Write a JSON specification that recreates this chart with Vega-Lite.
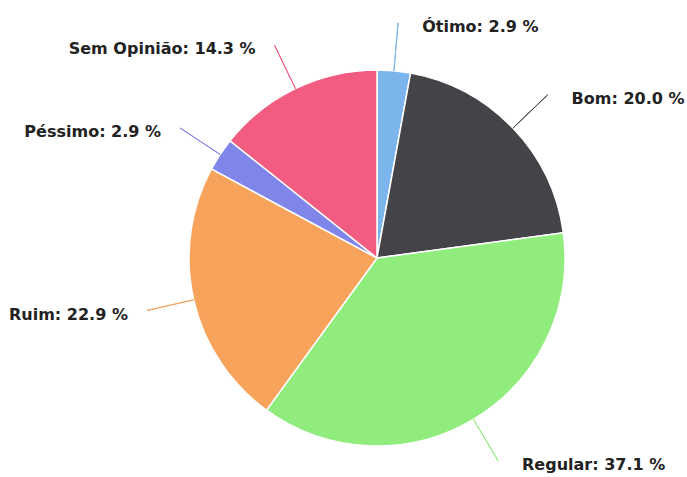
{
  "$schema": "https://vega.github.io/schema/vega-lite/v6.json",
  "width": 687,
  "height": 477,
  "autosize": "none",
  "padding": 0,
  "background": "#ffffff",
  "config": {"view": {"stroke": null}},
  "data": {
    "values": [
      {"order": 1, "cat": "Ótimo", "n": 1},
      {"order": 2, "cat": "Bom", "n": 7},
      {"order": 3, "cat": "Regular", "n": 13},
      {"order": 4, "cat": "Ruim", "n": 8},
      {"order": 5, "cat": "Péssimo", "n": 1},
      {"order": 6, "cat": "Sem Opinião", "n": 5}
    ]
  },
  "transform": [
    {"stack": "n", "groupby": [], "sort": [{"field": "order", "order": "ascending"}], "as": ["a0", "a1"]},
    {"calculate": "(datum.a0 + datum.a1) / 2", "as": "mid"},
    {"joinaggregate": [{"op": "sum", "field": "n", "as": "total"}]},
    {"calculate": "datum.cat + ': ' + format(datum.n / datum.total * 100, '.1f') + ' %'", "as": "label"},
    {"calculate": "datum.mid < datum.total / 2 ? 'right' : 'left'", "as": "side"}
  ],
  "encoding": {
    "x": {"value": 377},
    "y": {"value": 258}
  },
  "layer": [
    {
      "mark": {"type": "arc", "outerRadius": 188, "stroke": "#ffffff", "strokeWidth": 1.5},
      "encoding": {
        "theta": {"field": "a1", "type": "quantitative", "stack": null, "scale": {"nice": false, "zero": true}},
        "theta2": {"field": "a0"},
        "color": {
          "field": "cat", "type": "nominal", "legend": null,
          "scale": {
            "domain": ["Ótimo", "Bom", "Regular", "Ruim", "Péssimo", "Sem Opinião"],
            "range": ["#7cb5ec", "#434348", "#90ed7d", "#f7a35c", "#8085e9", "#f15c80"]
          }
        }
      }
    },
    {
      "mark": {"type": "arc", "filled": false, "innerRadius": 188, "outerRadius": 236, "strokeWidth": 1},
      "encoding": {
        "theta": {"field": "mid", "type": "quantitative", "stack": null},
        "theta2": {"field": "mid"},
        "color": {"field": "cat", "type": "nominal", "legend": null}
      }
    },
    {
      "transform": [{"filter": "datum.side === 'right'"}],
      "mark": {"type": "text", "radius": 236, "align": "left", "baseline": "middle", "dx": 24, "dy": 4, "font": "DejaVu Sans", "fontWeight": "bold", "fontSize": 16, "fill": "#222222"},
      "encoding": {
        "theta": {"field": "mid", "type": "quantitative", "stack": null},
        "text": {"field": "label"}
      }
    },
    {
      "transform": [{"filter": "datum.side === 'left'"}],
      "mark": {"type": "text", "radius": 236, "align": "right", "baseline": "middle", "dx": -19, "dy": 4, "font": "DejaVu Sans", "fontWeight": "bold", "fontSize": 16, "fill": "#222222"},
      "encoding": {
        "theta": {"field": "mid", "type": "quantitative", "stack": null},
        "text": {"field": "label"}
      }
    }
  ]
}
